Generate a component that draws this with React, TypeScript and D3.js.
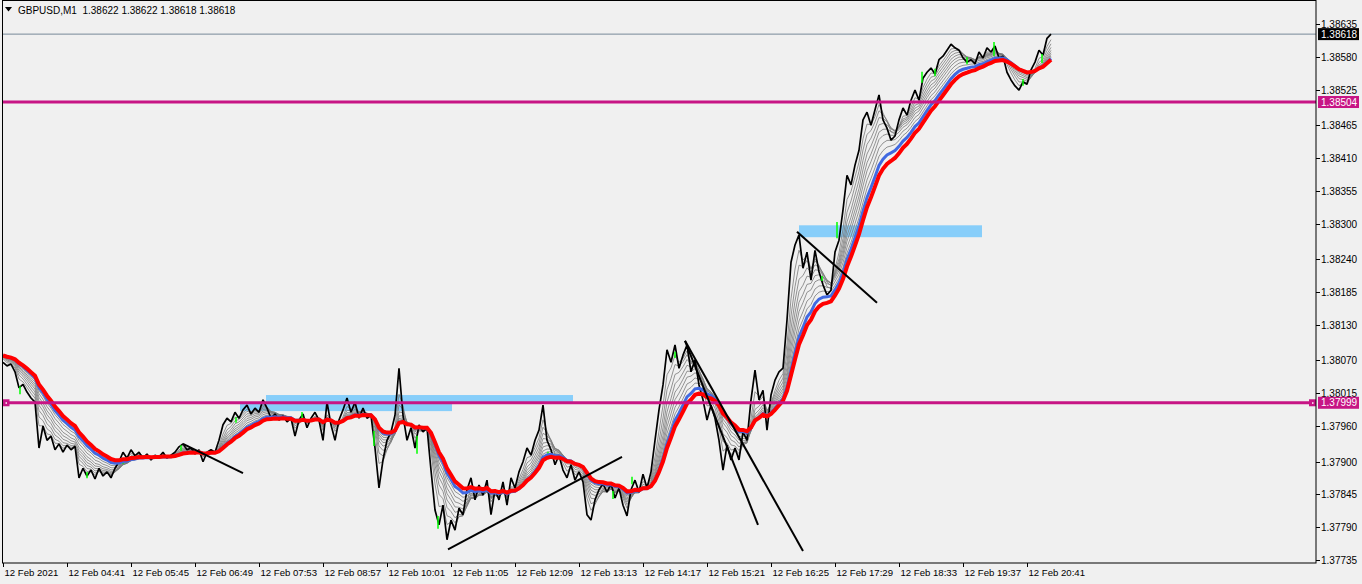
import React from 'react'
import * as d3 from 'd3'

// chart window size
const W = 1362, H = 584

// header
const symbol = 'GBPUSD,M1'
const quote = ['1.38622', '1.38622', '1.38618', '1.38618']

// first bar of the window, one sample every 4 minutes
const startTime = new Date(2021, 1, 12, 3, 37)
const stepMin = 4

// GBPUSD closes
const closes = [
  1.38067, 1.38061, 1.38064, 1.38051, 1.38024, 1.38030, 1.38017, 1.38007, 1.38000, 1.37923,
  1.37960, 1.37936, 1.37943, 1.37920, 1.37930, 1.37916, 1.37928, 1.37920, 1.37926, 1.37873,
  1.37889, 1.37876, 1.37886, 1.37871, 1.37889, 1.37876, 1.37883, 1.37873, 1.37889, 1.37900,
  1.37916, 1.37906, 1.37920, 1.37910, 1.37916, 1.37906, 1.37913, 1.37903, 1.37911, 1.37908,
  1.37916, 1.37906, 1.37911, 1.37916, 1.37925, 1.37930, 1.37920, 1.37923, 1.37913, 1.37920,
  1.37900, 1.37916, 1.37920, 1.37916, 1.37936, 1.37962, 1.37973, 1.37967, 1.37983, 1.37973,
  1.37987, 1.37995, 1.37980, 1.37990, 1.37983, 1.38004, 1.37990, 1.37973, 1.37980, 1.37970,
  1.37977, 1.37967, 1.37973, 1.37943, 1.37970, 1.37980, 1.37957, 1.37973, 1.37983, 1.37970,
  1.37936, 1.38000, 1.37962, 1.37936, 1.37970, 1.37987, 1.38007, 1.37983, 1.38000, 1.37973,
  1.37990, 1.37973, 1.37978, 1.37923, 1.37856, 1.37903, 1.37936, 1.37950, 1.37978, 1.38057,
  1.37978, 1.37936, 1.37957, 1.37923, 1.37962, 1.37950, 1.37957, 1.37886, 1.37819, 1.37794,
  1.37827, 1.37769, 1.37802, 1.37785, 1.37822, 1.37811, 1.37853, 1.37873, 1.37836, 1.37861,
  1.37844, 1.37869, 1.37811, 1.37853, 1.37836, 1.37866, 1.37827, 1.37873, 1.37856, 1.37883,
  1.37900, 1.37923, 1.37911, 1.37936, 1.37953, 1.37995, 1.37936, 1.37920, 1.37895, 1.37911,
  1.37886, 1.37873, 1.37895, 1.37869, 1.37883, 1.37866, 1.37811, 1.37802, 1.37836, 1.37853,
  1.37863, 1.37849, 1.37863, 1.37839, 1.37856, 1.37827, 1.37809, 1.37853, 1.37869, 1.37849,
  1.37879, 1.37856, 1.37883, 1.37936, 1.37987, 1.38029, 1.38088, 1.38067, 1.38096, 1.38057,
  1.38079, 1.38096, 1.38051, 1.38071, 1.38029, 1.38004, 1.37970, 1.37995, 1.37973, 1.37936,
  1.37886, 1.37928, 1.37903, 1.37923, 1.37903, 1.37950, 1.37936, 1.38004, 1.38054, 1.38004,
  1.38020, 1.37953, 1.38012, 1.38037, 1.38051, 1.38057, 1.38138, 1.38235, 1.38264, 1.38281,
  1.38225, 1.38252, 1.38205, 1.38255, 1.38219, 1.38197, 1.38180, 1.38188, 1.38252, 1.38272,
  1.38323, 1.38381, 1.38365, 1.38398, 1.38423, 1.38474, 1.38487, 1.38465, 1.38491, 1.38516,
  1.38474, 1.38460, 1.38440, 1.38447, 1.38474, 1.38494, 1.38482, 1.38507, 1.38524, 1.38507,
  1.38544, 1.38554, 1.38561, 1.38551, 1.38575, 1.38581, 1.38591, 1.38601, 1.38595, 1.38591,
  1.38578, 1.38571, 1.38575, 1.38568, 1.38588, 1.38578, 1.38595, 1.38588, 1.38598, 1.38578,
  1.38581, 1.38554, 1.38541, 1.38531, 1.38524, 1.38538, 1.38534, 1.38558, 1.38571, 1.38591,
  1.38583, 1.38611, 1.38618,
]

// green up-bars: [minute offset, high, low]
const greenBars = [
  [17, 1.38025, 1.38015], [84, 1.37881, 1.37874], [120, 1.37903, 1.37898], [178, 1.37926, 1.37920],
  [233, 1.37973, 1.37967], [299, 1.37982, 1.37975], [371, 1.37950, 1.37928], [414, 1.37942, 1.37915],
  [435, 1.37807, 1.37789], [545, 1.37915, 1.37906], [610, 1.37849, 1.37839], [629, 1.37873, 1.37864],
  [672, 1.38083, 1.38076], [819, 1.38210, 1.38205], [834, 1.38301, 1.38277], [919, 1.38553, 1.38538],
  [932, 1.38558, 1.38549], [964, 1.38578, 1.38569], [991, 1.38603, 1.38583], [1020, 1.38541, 1.38533],
  [1039, 1.38583, 1.38571],
]

// moving average ribbon: periods in minutes, starting level read at the left edge
const thinPeriods = [10, 15, 20, 25, 30, 35, 41, 47]
const bluePeriod = 54
const redPeriod = 62
const ribbonStart = 1.38080

// objects on chart
const levelPrices = [1.38504, 1.37999]
const currentPrice = 1.38618
// [from minute, to minute, top price, bottom price]
const zones = [
  [263, 570, 1.38012, 1.37999],
  [237, 449, 1.37997, 1.37985],
  [796, 979, 1.38297, 1.38277],
]
// [minute, price, minute, price]
const trendLines = [
  [180, 1.37930, 240, 1.37881],
  [445, 1.37753, 619, 1.37908],
  [682, 1.38103, 755, 1.37794],
  [682, 1.38103, 800, 1.37750],
  [794, 1.38286, 874, 1.38167],
]

const priceTicks = [
  1.38635, 1.38580, 1.38525, 1.38465, 1.38410, 1.38355, 1.38300, 1.38240, 1.38185,
  1.38130, 1.38070, 1.38015, 1.37960, 1.37900, 1.37845, 1.37790, 1.37735,
]
const timeTicks = ['03:37', '04:41', '05:45', '06:49', '07:53', '08:57', '10:01', '11:05', '12:09',
  '13:13', '14:17', '15:21', '16:25', '17:29', '18:33', '19:37', '20:41']

const font = '"Liberation Sans", Arial, sans-serif'
const magenta = '#C71585'

const ema = (vals: number[], period: number) => {
  const a = 1 - Math.pow(1 - 2 / (period + 1), stepMin)
  let e = ribbonStart
  return vals.map(v => (e = e + a * (v - e)))
}

const App = () => {
  const left = 2.5, right = 1316, top = 0.5, bottom = 563
  const minute = 60000
  const tAt = (m: number) => new Date(startTime.getTime() + m * minute)

  const x = d3.scaleTime().domain([startTime, tAt(1313)]).range([3, right])
  const y = d3.scaleLinear().domain([1.37735, 1.38635]).range([560, 24])

  const line = d3.line<number>()
    .x((_, i) => x(tAt(i * stepMin)))
    .y(d => y(d))

  const parse = d3.timeParse('%Y-%m-%d %H:%M')
  const tickDates = timeTicks.map(t => parse('2021-02-12 ' + t) as Date)

  const thin = thinPeriods.map(p => ema(closes, p))
  const blue = ema(closes, bluePeriod)
  const red = ema(closes, redPeriod)

  const lx = (m: number) => x(tAt(m))

  return (
    <svg width={W} height={H} style={{ position: 'absolute', left: 0, top: 0, background: '#F0F0F0' }}
      fontFamily={font} fontSize={10}>
      <defs>
        <clipPath id="plot"><rect x={left} y={top} width={right - left} height={bottom - top} /></clipPath>
      </defs>
      <rect x={0} y={0} width={W} height={H} fill="#F0F0F0" />

      <g clipPath="url(#plot)">
        {zones.map((z, i) => (
          <rect key={i} x={lx(z[0])} y={y(z[2])} width={lx(z[1]) - lx(z[0])}
            height={y(z[3]) - y(z[2])} fill="#87CEFA" />
        ))}

        <line x1={left} x2={right} y1={y(currentPrice)} y2={y(currentPrice)} stroke="#778899" />

        {thin.map((s, i) => (
          <path key={i} d={line(s) || ''} fill="none" stroke="#7A7A7A" strokeWidth={0.8} />
        ))}

        <path d={line(closes) || ''} fill="none" stroke="#000" strokeWidth={1.7} strokeLinejoin="bevel" />
        {greenBars.map((g, i) => (
          <line key={i} x1={lx(g[0])} x2={lx(g[0])} y1={y(g[1]) - 1} y2={y(g[2]) + 1}
            stroke="#00FF00" strokeWidth={1.5} />
        ))}

        <path d={line(blue) || ''} fill="none" stroke="#4169E1" strokeWidth={3} />
        <path d={line(red) || ''} fill="none" stroke="#FF0000" strokeWidth={4} />

        {levelPrices.map((p, i) => (
          <line key={i} x1={left} x2={right} y1={y(p)} y2={y(p)} stroke={magenta} strokeWidth={3} />
        ))}
        {[left + 3.5, right - 3.5].map((cx, i) => (
          <g key={i}>
            <rect x={cx - 3.5} y={y(levelPrices[1]) - 3.5} width={7} height={7} fill={magenta} />
            <rect x={cx - 0.5} y={y(levelPrices[1]) - 0.5} width={1.5} height={1.5} fill="#fff" />
          </g>
        ))}

        {trendLines.map((t, i) => (
          <line key={i} x1={lx(t[0])} y1={y(t[1])} x2={lx(t[2])} y2={y(t[3])}
            stroke="#000" strokeWidth={2} />
        ))}
      </g>

      <rect x={left} y={top} width={right - left} height={bottom - top} fill="none" stroke="#000" />

      {/* price axis */}
      {priceTicks.map(p => (
        <g key={p} transform={`translate(${right},${Math.round(y(p)) + 0.5})`}>
          <line x1={0} x2={4} stroke="#000" />
          <text x={5} dy="0.35em" fill="#000">{p.toFixed(5)}</text>
        </g>
      ))}
      {[
        { p: currentPrice, bg: '#000' },
        { p: levelPrices[0], bg: magenta },
        { p: levelPrices[1], bg: magenta },
      ].map((b, i) => (
        <g key={i} transform={`translate(${right + 2},${y(b.p)})`}>
          <rect x={0} y={-6} width={41} height={12} fill={b.bg} />
          <text x={3} dy="0.35em" fill="#fff">{b.p.toFixed(5)}</text>
        </g>
      ))}

      {/* time axis */}
      {tickDates.map((d, i) => (
        <g key={i} transform={`translate(${Math.round(x(d)) + 0.5},${bottom})`}>
          <line y1={0} y2={4} stroke="#000" />
          <text x={1} y={13} fill="#000" fontSize={9.6}>
            {i === 0 ? '12 Feb 2021' : d3.timeFormat('%d %b %H:%M')(d)}
          </text>
        </g>
      ))}

      {/* header */}
      <path d="M5,7 L12,7 L8.5,11.5 Z" fill="#000" />
      <text x={18} y={14} fill="#000" style={{ whiteSpace: 'pre' }}>
        {symbol + '  ' + quote.join(' ')}
      </text>
    </svg>
  )
}

export default App
